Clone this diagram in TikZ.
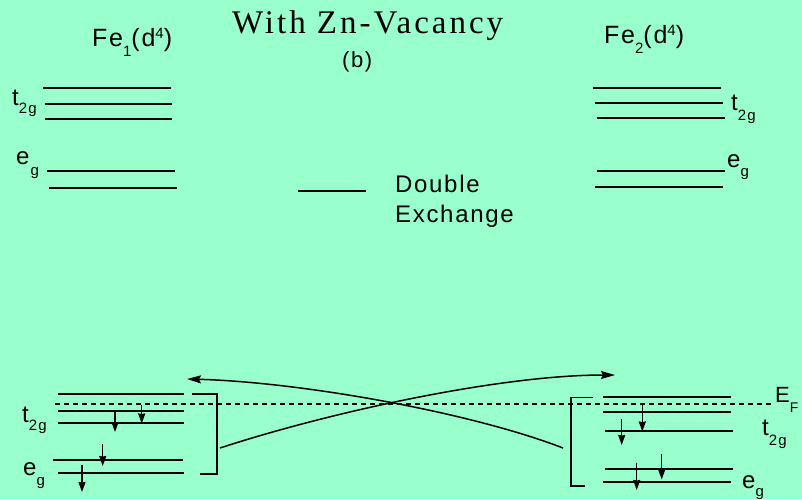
\documentclass[tikz,border=0pt]{standalone}
\usepackage{fontspec}
\setmainfont{Liberation Sans}
\newfontfamily\ttlfont[LetterSpace=9]{Liberation Serif}
\newfontfamily\snsfont[LetterSpace=7]{Liberation Sans}
\usetikzlibrary{arrows.meta}
\definecolor{bg}{RGB}{153,255,204}
\newcommand\fsz[1]{\fontsize{#1}{#1}\selectfont}
\newcommand\lsub[3]{\raisebox{-#2pt}{\fsz{#1}#3}}
\newcommand\lsup[3]{\raisebox{#2pt}{\fsz{#1}#3}}
\begin{document}
\begin{tikzpicture}[x=1pt,y=-1pt,
  lvl/.style={line width=1.8pt},
  spin/.style={line width=1.5pt,-{Stealth[length=10pt,width=7pt,inset=0.5pt]}},
  hop/.style={line width=1.5pt,-{Stealth[length=14pt,width=8pt,inset=2pt]}},
  brk/.style={line width=1.8pt},
  fermi/.style={line width=1.4pt,dash pattern=on 5pt off 4pt},
  lab/.style={inner sep=0pt,anchor=base west,font={\snsfont\fsz{24}}},
  ttl/.style={inner sep=0pt,anchor=base west,font={\ttlfont\fsz{33}}}]
\useasboundingbox (0,0) rectangle (802,499);
\fill[bg] (0,0) rectangle (802,499);

% texts
\node[ttl] (title) at (232,33) {With Zn-Vacancy};
\node[lab,font={\snsfont\fsz{22}}] (b) at (342,67) {(b)};
\node[lab,font={\snsfont\fsz{25}}] (fe1) at (92,46) {Fe\lsub{15}{10}{1}(d\lsup{15}{8}{4})};
\node[lab,font={\snsfont\fsz{25}}] (fe2) at (604,43) {Fe\lsub{15}{10}{2}(d\lsup{15}{8}{4})};
\node[lab] (dbl) at (395,192) {Double};
\node[lab] (exc) at (395,222) {Exchange};

\node[lab] (t2gTL) at (12,105) {t\lsub{15}{8}{2g}};
\node[lab] (egTL) at (16,164) {e\kern1pt\lsub{15}{11}{g}};
\node[lab] (t2gTR) at (731,110) {t\lsub{15}{10}{2g}};
\node[lab] (egTR) at (727,167) {e\lsub{15}{9}{g}};
\node[lab] (t2gBL) at (22,422) {t\lsub{15}{8}{2g}};
\node[lab] (egBL) at (23,475) {e\lsub{15}{10}{g}};
\node[lab,font={\snsfont\fsz{22}}] (EF) at (775,402) {E\lsub{14}{10}{F}};
\node[lab] (t2gBR) at (762,435) {t\lsub{15}{10}{2g}};
\node[lab] (egBR) at (742,488) {e\lsub{15}{8}{g}};

% top-left levels
\draw[lvl] (43,88) -- (171,88);
\draw[lvl] (45,104) -- (172,104);
\draw[lvl] (45,119) -- (172,119);
\draw[lvl] (47,171) -- (175,171);
\draw[lvl] (49,188) -- (177,188);
% top-right levels
\draw[lvl] (593,88) -- (721,88);
\draw[lvl] (595,103) -- (723,103);
\draw[lvl] (597,118) -- (725,118);
\draw[lvl] (597,171) -- (725,171);
\draw[lvl] (595,187) -- (723,187);
% legend line
\draw[lvl] (298,191) -- (366,191);

% bottom-left levels
\draw[lvl] (58,394) -- (184,394);
\draw[lvl] (58,411) -- (184,411);
\draw[lvl] (58,423) -- (184,423);
\draw[lvl] (53,460) -- (183,460);
\draw[lvl] (58,473) -- (184,473);
% bottom-right levels
\draw[lvl] (603,397) -- (731,397);
\draw[lvl] (603,412) -- (731,412);
\draw[lvl] (605,431) -- (733,431);
\draw[lvl] (605,469) -- (733,469);
\draw[lvl] (603,482) -- (731,482);

% Fermi level
\draw[fermi] (55,404) -- (771,404);

% brackets
\draw[brk] (192,394) -| (217,474) -- (200,474);
\draw[brk] (593,397.5) -| (571,485.7) -- (585,485.7);

% spins
\draw[spin] (115,411) -- (115,432);
\draw[spin] (141.7,405) -- (141.7,423.5);
\draw[spin] (102.7,444) -- (102.7,466);
\draw[spin] (82,465) -- (82,492);
\draw[spin] (642.3,405) -- (642.3,431.5);
\draw[spin] (621.7,419) -- (621.7,445);
\draw[spin] (661.7,454) -- (661.7,479.5);
\draw[spin] (636.7,463) -- (636.7,490);

% hopping arrows
\coordinate (a1) at (220,448);
\coordinate (a2) at (615,375);
\coordinate (b1) at (563,448);
\coordinate (b2) at (187,379);
\draw[hop] (a1) .. controls (330,412) and (500,375) .. (a2);
\draw[hop] (b1) .. controls (470,412) and (300,382) .. (b2);
\end{tikzpicture}
\end{document}
